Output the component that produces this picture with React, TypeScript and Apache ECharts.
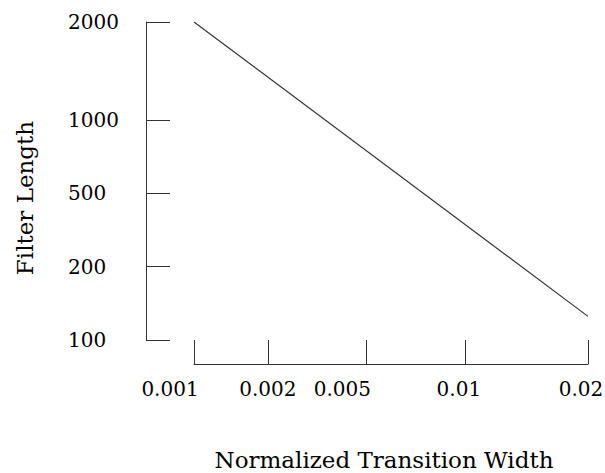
import React, { useEffect, useRef } from "react";
import * as echarts from "echarts";

// ---- data ----
const xTickValues = [0.001, 0.002, 0.005, 0.01, 0.02];
const xTickLabels = ["0.001", "0.002", "0.005", "0.01", "0.02"];
const yTickValues = [100, 200, 500, 1000, 2000];
const yTickLabels = ["100", "200", "500", "1000", "2000"];
const transitionWidths = [0.001, 0.02];
const filterLengths = [2000, 125];

// ---- layout (axis slot positions of the ticks, label nudges) ----
const X_SLOTS = [0, 3, 7, 11, 16];
const Y_SLOTS = [0, 3, 6, 9, 13];
const X_LABEL_SHIFT = [24, 0, 24, 6, 7];

const FONT = "'DejaVu Serif', serif";
const INK = "#333";

function toSlot(v: number, values: number[], slots: number[]): number {
  for (let i = 0; i < values.length - 1; i++) {
    if (v <= values[i + 1] || i === values.length - 2) {
      const t = Math.log(v / values[i]) / Math.log(values[i + 1] / values[i]);
      return slots[i] + t * (slots[i + 1] - slots[i]);
    }
  }
  return slots[0];
}

function slotIndex(v: number, slots: number[]): number {
  for (let i = 0; i < slots.length; i++) if (Math.abs(slots[i] - v) < 1e-6) return i;
  return -1;
}

export default function App() {
  const ref = useRef<HTMLDivElement>(null);
  useEffect(() => {
    if (!ref.current) return;
    const chart = echarts.init(ref.current, undefined, { renderer: "svg" });
    const rich: Record<string, any> = {};
    X_SLOTS.forEach((_, i) => {
      rich["s" + i] = {
        fontFamily: FONT,
        fontSize: 20,
        color: "#000",
        padding: [0, X_LABEL_SHIFT[i] * 2, 0, 0],
      };
    });
    const data = transitionWidths.map((w, i) => [
      toSlot(w, xTickValues, X_SLOTS),
      toSlot(filterLengths[i], yTickValues, Y_SLOTS),
    ]);
    chart.setOption({
      animation: false,
      backgroundColor: "#fff",
      grid: { left: 194, right: 17, top: 22, bottom: 133, outerBoundsMode: "none" },
      xAxis: {
        type: "value",
        min: 0,
        max: X_SLOTS[X_SLOTS.length - 1],
        offset: 24,
        splitLine: { show: false },
        axisLine: { show: true, onZero: false, lineStyle: { color: INK, width: 1 } },
        axisTick: {
          show: true,
          inside: true,
          length: 24,
          customValues: X_SLOTS,
          lineStyle: { color: INK, width: 1 },
        },
        axisLabel: {
          customValues: X_SLOTS,
          margin: 15,
          fontFamily: FONT,
          fontSize: 20,
          color: "#000",
          formatter: (v: number) => {
            const i = slotIndex(v, X_SLOTS);
            return i < 0 ? "" : `{s${i}|${xTickLabels[i]}}`;
          },
          rich,
        },
      },
      yAxis: {
        type: "value",
        min: 0,
        max: Y_SLOTS[Y_SLOTS.length - 1],
        offset: 48,
        splitLine: { show: false },
        axisLine: { show: true, onZero: false, lineStyle: { color: INK, width: 1 } },
        axisTick: {
          show: true,
          inside: true,
          length: 24,
          customValues: Y_SLOTS,
          lineStyle: { color: INK, width: 1 },
        },
        axisLabel: {
          customValues: Y_SLOTS,
          margin: 78,
          align: "left",
          fontFamily: FONT,
          fontSize: 20,
          color: "#000",
          formatter: (v: number) => {
            const i = slotIndex(v, Y_SLOTS);
            return i < 0 ? "" : yTickLabels[i];
          },
        },
      },
      graphic: [
        {
          type: "text",
          x: 384,
          y: 460,
          style: {
            text: "Normalized Transition Width",
            font: `23px ${FONT}`,
            fill: "#000",
            align: "center",
            verticalAlign: "middle",
          },
        },
        {
          type: "text",
          x: 25,
          y: 198,
          rotation: Math.PI / 2,
          style: {
            text: "Filter Length",
            font: `23px ${FONT}`,
            fill: "#000",
            align: "center",
            verticalAlign: "middle",
          },
        },
      ],
      series: [
        {
          type: "line",
          data,
          showSymbol: false,
          lineStyle: { color: INK, width: 1.2 },
        },
      ],
    });
    return () => chart.dispose();
  }, []);
  return (
    <div
      ref={ref}
      style={{ position: "fixed", left: 0, top: 0, width: 605, height: 473 }}
    />
  );
}
